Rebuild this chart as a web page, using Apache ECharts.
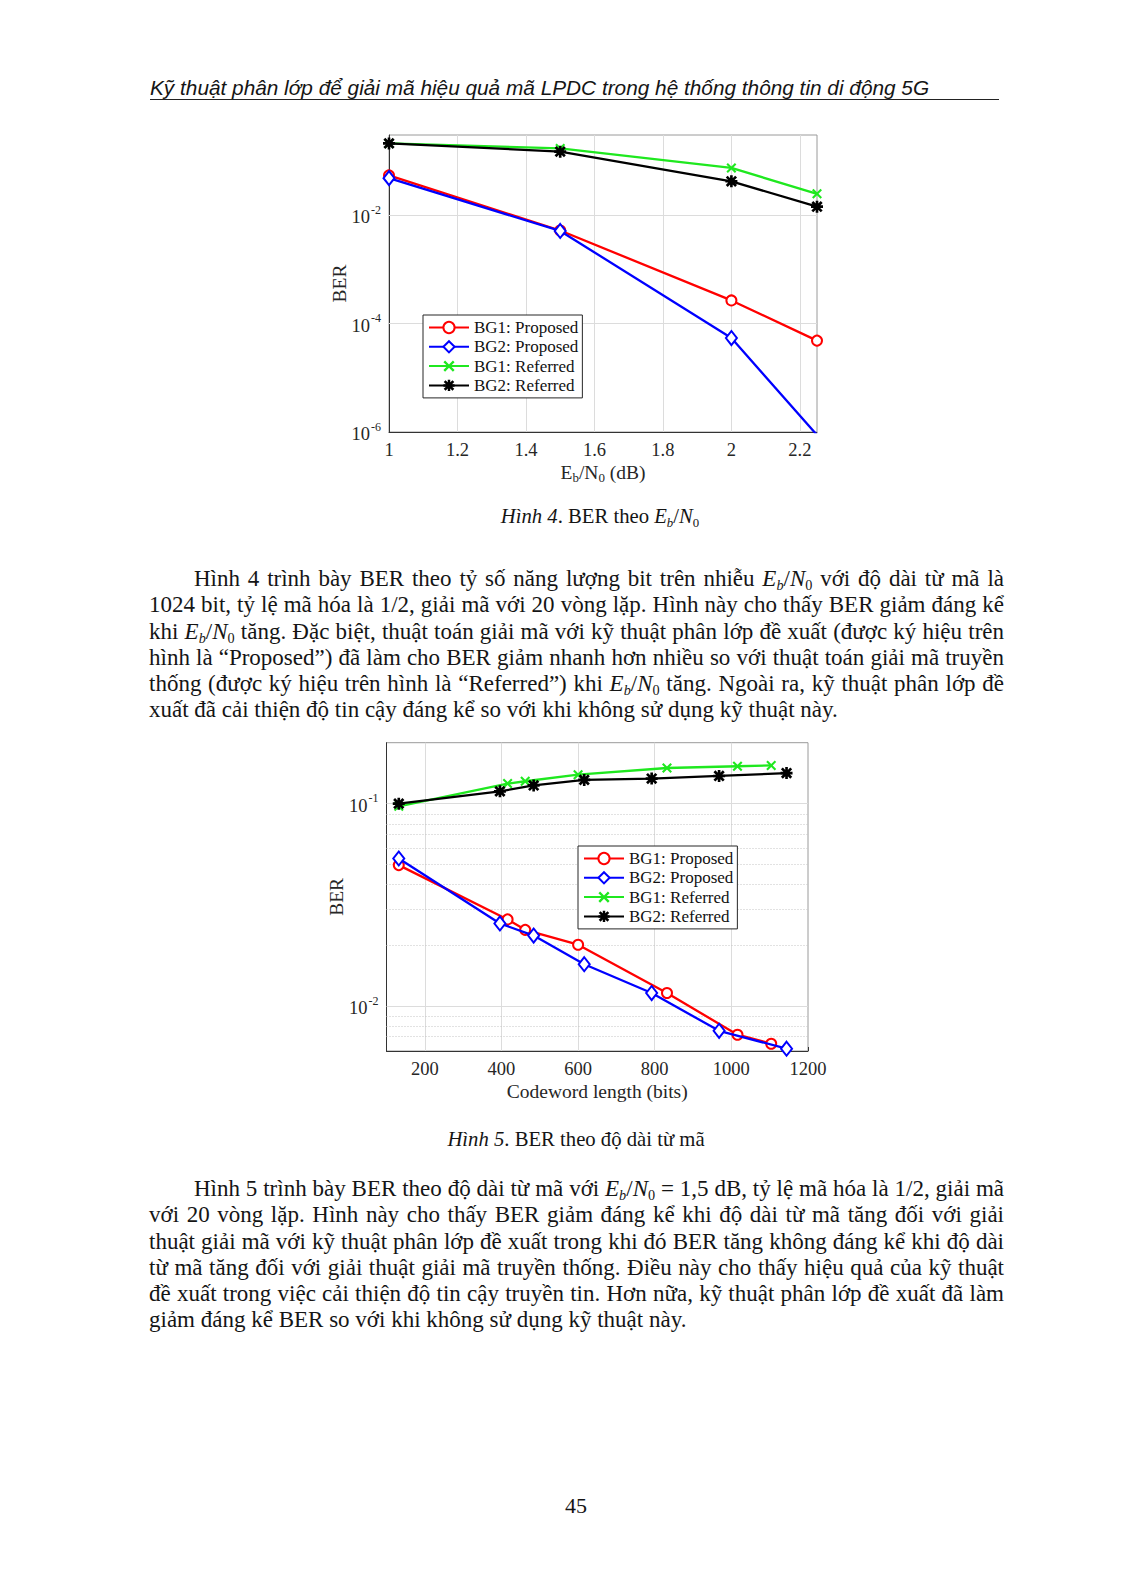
<!DOCTYPE html>
<html><head><meta charset="utf-8">
<script src="https://cdn.jsdelivr.net/npm/echarts@6/dist/echarts.min.js"></script>
<style>
html,body{margin:0;padding:0;background:#fff;}
body{width:1122px;height:1594px;position:relative;overflow:hidden;font-family:'Liberation Serif','Times New Roman',serif;color:#151515;}
.abs{position:absolute;}
.header{left:150px;top:76px;font-family:'Liberation Sans',Arial,sans-serif;font-style:italic;font-size:20.8px;line-height:24px;white-space:nowrap;}
.rule{left:150px;top:99px;width:849px;height:0;border-top:1.5px solid #222;}
.para{left:149px;width:855px;font-size:23px;line-height:26.3px;}
.para .l{display:block;text-align:justify;text-align-last:justify;}
.para .l.last{text-align:left;text-align-last:left;}
.para .l.ind{text-indent:45px;}
sub{font-size:0.62em;vertical-align:-0.28em;line-height:0;}
.cap{left:300px;width:600px;text-align:center;font-size:20.7px;line-height:24px;}
.chart{position:absolute;}
</style>
</head>
<body>
<div class="abs header">Kỹ thuật phân lớp để giải mã hiệu quả mã LPDC trong hệ thống thông tin di động 5G</div>
<div class="abs rule"></div>

<div id="c1" class="chart" style="left:280px;top:115px;width:580px;height:380px;"></div>
<div class="abs cap" style="top:504px;"><i>Hình 4</i>. BER theo <i>E<sub>b</sub></i>/<i>N</i><sub>0</sub></div>

<div class="abs para" style="top:566px;">
<span class="l ind">Hình 4 trình bày BER theo tỷ số năng lượng bit trên nhiễu <i>E<sub>b</sub></i>/<i>N</i><sub>0</sub> với độ dài từ mã là</span>
<span class="l">1024 bit, tỷ lệ mã hóa là 1/2, giải mã với 20 vòng lặp. Hình này cho thấy BER giảm đáng kể</span>
<span class="l">khi <i>E<sub>b</sub></i>/<i>N</i><sub>0</sub> tăng. Đặc biệt, thuật toán giải mã với kỹ thuật phân lớp đề xuất (được ký hiệu trên</span>
<span class="l">hình là “Proposed”) đã làm cho BER giảm nhanh hơn nhiều so với thuật toán giải mã truyền</span>
<span class="l">thống (được ký hiệu trên hình là “Referred”) khi <i>E<sub>b</sub></i>/<i>N</i><sub>0</sub> tăng. Ngoài ra, kỹ thuật phân lớp đề</span>
<span class="l last">xuất đã cải thiện độ tin cậy đáng kể so với khi không sử dụng kỹ thuật này.</span>
</div>

<div id="c2" class="chart" style="left:280px;top:725px;width:580px;height:385px;"></div>
<div class="abs cap" style="top:1127px;left:276px;"><i>Hình 5</i>. BER theo độ dài từ mã</div>

<div class="abs para" style="top:1176px;">
<span class="l ind">Hình 5 trình bày BER theo độ dài từ mã với <i>E<sub>b</sub></i>/<i>N</i><sub>0</sub> = 1,5 dB, tỷ lệ mã hóa là 1/2, giải mã</span>
<span class="l">với 20 vòng lặp. Hình này cho thấy BER giảm đáng kể khi độ dài từ mã tăng đối với giải</span>
<span class="l">thuật giải mã với kỹ thuật phân lớp đề xuất trong khi đó BER tăng không đáng kể khi độ dài</span>
<span class="l">từ mã tăng đối với giải thuật giải mã truyền thống. Điều này cho thấy hiệu quả của kỹ thuật</span>
<span class="l">đề xuất trong việc cải thiện độ tin cậy truyền tin. Hơn nữa, kỹ thuật phân lớp đề xuất đã làm</span>
<span class="l last">giảm đáng kể BER so với khi không sử dụng kỹ thuật này.</span>
</div>

<div class="abs cap" style="top:1494px;left:276px;font-size:22px;">45</div>

<script>
// ---------- Figure 4 data: BER vs Eb/N0 ----------
const ebn0 = [1, 1.5, 2, 2.25];
const fig4BG1Proposed = [0.054, 0.0052, 2.67e-4, 4.85e-5];
const fig4BG2Proposed = [0.048, 0.0051, 5.4e-5, 8.8e-7];
const fig4BG1Referred = [0.21, 0.17, 0.074, 0.0247];
const fig4BG2Referred = [0.21, 0.148, 0.042, 0.0143];
const fig4XTicks = [1, 1.2, 1.4, 1.6, 1.8, 2, 2.2];
const fig4YTicks = [1e-6, 1e-4, 1e-2];
const fig4XRange = [1, 2.25];
const fig4YRange = [1e-6, 0.30];

// ---------- Figure 5 data: BER vs codeword length ----------
const lenBG1 = [132, 416, 462, 600, 832, 1016, 1104];
const lenBG2 = [132, 396, 484, 616, 792, 968, 1144];
const fig5BG1Proposed = [0.0497, 0.0268, 0.0238, 0.0201, 0.0116, 0.00722, 0.00652];
const fig5BG2Proposed = [0.0536, 0.0256, 0.0223, 0.0161, 0.0116, 0.00755, 0.00616];
const fig5BG1Referred = [0.097, 0.1256, 0.129, 0.139, 0.150, 0.153, 0.1545];
const fig5BG2Referred = [0.100, 0.115, 0.123, 0.131, 0.133, 0.137, 0.1416];
const fig5XTicks = [200, 400, 600, 800, 1000, 1200];
const fig5YTicks = [1e-2, 1e-1];
const fig5YMinor = [0.007, 0.008, 0.009, 0.02, 0.03, 0.04, 0.05, 0.06, 0.07, 0.08, 0.09];
const fig5XRange = [100, 1200];
const fig5YRange = [0.006, 0.2];

const seriesNames = ['BG1: Proposed', 'BG2: Proposed', 'BG1: Referred', 'BG2: Referred'];
</script>
<script>
const FONT = "'Liberation Serif','Times New Roman',serif";
const TXT = '#262626';
const COLORS = ['#ff0000', '#0000ff', '#1fe81f', '#000000'];
const GRID_C = '#dcdcdc';
const X_PATH = 'path://M0,1.5 L1.5,0 L5,3.5 L8.5,0 L10,1.5 L6.5,5 L10,8.5 L8.5,10 L5,6.5 L1.5,10 L0,8.5 L3.5,5 Z';
const STAR_PATH = 'path://M3.9,0 L6.1,0 L6.1,3.9 L10,3.9 L10,6.1 L6.1,6.1 L6.1,10 L3.9,10 L3.9,6.1 L0,6.1 L0,3.9 L3.9,3.9 Z M0.3,1.9 L1.9,0.3 L5,3.4 L8.1,0.3 L9.7,1.9 L6.6,5 L9.7,8.1 L8.1,9.7 L5,6.6 L1.9,9.7 L0.3,8.1 L3.4,5 Z';
const SYMBOLS = [
  {symbol: 'emptyCircle', symbolSize: 10, itemStyle: {borderWidth: 2}},
  {symbol: 'emptyDiamond', symbolSize: [11, 14], itemStyle: {borderWidth: 2}},
  {symbol: X_PATH, symbolSize: 10, itemStyle: {borderWidth: 0}},
  {symbol: STAR_PATH, symbolSize: 12, itemStyle: {borderWidth: 0}}
];
const lg = v => Math.log10(v);

function supLabel(v) {
  return '{b|10}{e|' + Math.round(v) + '}';
}
const supRich = {
  b: {fontFamily: FONT, fontSize: 18.5, color: TXT, lineHeight: 23, verticalAlign: 'bottom'},
  e: {fontFamily: FONT, fontSize: 12, color: TXT, lineHeight: 10, padding: [0, 0, 0, 1], verticalAlign: 'top'}
};

function makeSeries(xs, ys, i) {
  const s = SYMBOLS[i];
  return {
    type: 'line', name: seriesNames[i],
    data: xs.map((x, k) => [x, lg(ys[k])]),
    symbol: s.symbol, symbolSize: s.symbolSize,
    showAllSymbol: true,
    lineStyle: {color: COLORS[i], width: 2.3},
    itemStyle: Object.assign({color: COLORS[i], borderColor: COLORS[i]}, s.itemStyle),
    emphasis: {disabled: true},
    z: 3 + i, animation: false
  };
}

function gridSeries(xLines, yLines, yMinor) {
  const data = [];
  xLines.forEach(v => data.push({xAxis: v}));
  yLines.forEach(v => data.push({yAxis: v}));
  (yMinor || []).forEach(v => data.push({yAxis: v, lineStyle: {color: '#c4c4c4', type: [1, 2], width: 1}}));
  return {
    type: 'line', name: 'grid', data: [], silent: true, z: 1, animation: false,
    markLine: {z: 1, silent: true, symbol: ['none', 'none'], label: {show: false}, animation: false,
      lineStyle: {color: GRID_C, type: 'solid', width: 1},
      emphasis: {disabled: true}, data: data}
  };
}

function baseAxis(range, ticks) {
  return {
    type: 'value', min: range[0], max: range[1],
    axisLine: {show: true, onZero: false, lineStyle: {color: '#333', width: 1}},
    axisTick: {show: true, inside: true, length: 4, lineStyle: {color: '#333'}, customValues: ticks},
    axisLabel: {customValues: ticks, fontFamily: FONT, fontSize: 18.5, color: TXT, margin: 8},
    splitLine: {show: false},
    nameMoveOverlap: false,
    nameTextStyle: {fontFamily: FONT, fontSize: 19.5, color: TXT}
  };
}

function legendOpt(left, top) {
  return {
    orient: 'vertical', left: left, top: top, z: 10,
    itemWidth: 40, itemHeight: 14, itemGap: 0.3,
    padding: [3, 4, 3, 5],
    borderColor: '#262626', borderWidth: 1, borderRadius: 0, backgroundColor: '#fff',
    textStyle: {fontFamily: FONT, fontSize: 17, color: '#111', lineHeight: 19},
    data: seriesNames, selectedMode: false
  };
}

// ---------- Figure 4 ----------
const c1 = echarts.init(document.getElementById('c1'), null, {renderer: 'svg'});
const x1 = baseAxis(fig4XRange, fig4XTicks);
x1.axisLabel.formatter = v => String(+(+v).toFixed(1));
x1.name = '{n|E}{s|b}{n|/N}{s|0}{n| (dB)}';
x1.nameLocation = 'middle'; x1.nameGap = 30;
x1.nameTextStyle = {rich: {
  n: {fontFamily: FONT, fontSize: 19.5, color: TXT, lineHeight: 21, verticalAlign: 'top'},
  s: {fontFamily: FONT, fontSize: 13, color: TXT, lineHeight: 13, padding: [9, 0, 0, 0], verticalAlign: 'top'}
}};
const y1 = baseAxis([lg(fig4YRange[0]), lg(fig4YRange[1])], fig4YTicks.map(lg));
y1.axisLabel.formatter = supLabel;
y1.axisLabel.rich = supRich;
y1.name = 'BER'; y1.nameLocation = 'middle'; y1.nameGap = 40;

c1.setOption({
  animation: false,
  grid: {left: 109, right: 43, top: 20, bottom: 63, show: true, borderColor: '#9a9a9a', borderWidth: 1, backgroundColor: '#fff'},
  xAxis: x1, yAxis: y1,
  legend: legendOpt(143, 200),
  series: [
    gridSeries(fig4XTicks.slice(1), fig4YTicks.slice(1).map(lg)),
    makeSeries(ebn0, fig4BG1Proposed, 0),
    makeSeries(ebn0, fig4BG2Proposed, 1),
    makeSeries(ebn0, fig4BG1Referred, 2),
    makeSeries(ebn0, fig4BG2Referred, 3)
  ]
});

// ---------- Figure 5 ----------
const c2 = echarts.init(document.getElementById('c2'), null, {renderer: 'svg'});
const x2 = baseAxis(fig5XRange, fig5XTicks);
x2.axisLabel.formatter = v => String(v);
x2.name = 'Codeword length (bits)'; x2.nameLocation = 'middle'; x2.nameGap = 30;
const y2 = baseAxis([lg(fig5YRange[0]), lg(fig5YRange[1])], fig5YTicks.map(lg));
y2.axisLabel.formatter = supLabel;
y2.axisLabel.rich = supRich;
y2.name = 'BER'; y2.nameLocation = 'middle'; y2.nameGap = 40.5;

c2.setOption({
  animation: false,
  grid: {left: 106.5, right: 52, top: 17.7, bottom: 59, show: true, borderColor: '#9a9a9a', borderWidth: 1, backgroundColor: '#fff'},
  xAxis: x2, yAxis: y2,
  legend: legendOpt(298, 121),
  series: [
    gridSeries(fig5XTicks.slice(0, -1), fig5YTicks.map(lg), fig5YMinor.map(lg)),
    makeSeries(lenBG1, fig5BG1Proposed, 0),
    makeSeries(lenBG2, fig5BG2Proposed, 1),
    makeSeries(lenBG1, fig5BG1Referred, 2),
    makeSeries(lenBG2, fig5BG2Referred, 3)
  ]
});
</script>
</body></html>
